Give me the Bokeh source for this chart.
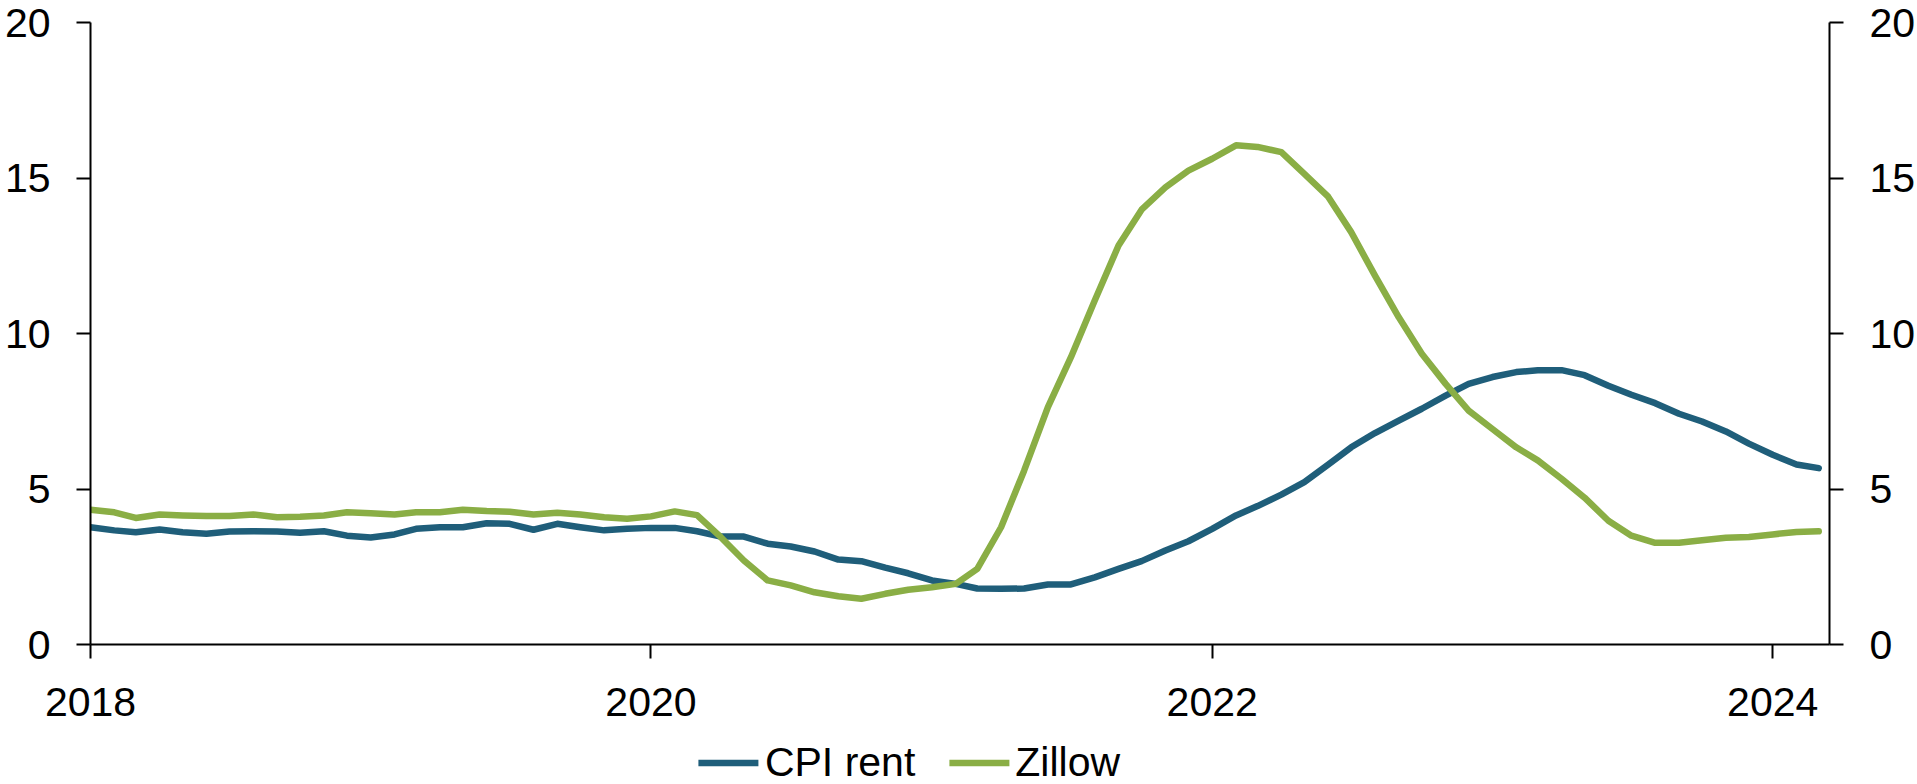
import pandas as pd
from datetime import datetime
from bokeh.plotting import figure
from bokeh.layouts import column
from bokeh.models import (Range1d, LinearAxis, FixedTicker, DatetimeTickFormatter,
                          Legend, LegendItem, ColumnDataSource)
from bokeh.embed import file_html
from bokeh.resources import INLINE

# ---- data (monthly, Jan 2018 - Mar 2024), % y/y ----
start_month = "2018-01-01"
cpi_rent = [3.77, 3.67, 3.61, 3.70, 3.61, 3.56, 3.63, 3.64, 3.63, 3.59, 3.64, 3.50,
            3.44, 3.54, 3.72, 3.77, 3.77, 3.90, 3.88, 3.69, 3.88, 3.77, 3.67, 3.72,
            3.75, 3.75, 3.64, 3.47, 3.47, 3.24, 3.15, 2.99, 2.73, 2.68, 2.47, 2.29,
            2.06, 1.95, 1.80, 1.79, 1.80, 1.93, 1.93, 2.16, 2.43, 2.68, 3.02, 3.32,
            3.72, 4.15, 4.45, 4.82, 5.22, 5.78, 6.34, 6.80, 7.20, 7.58, 8.00, 8.38,
            8.60, 8.76, 8.82, 8.82, 8.66, 8.32, 8.03, 7.76, 7.42, 7.17, 6.85, 6.46,
            6.10, 5.79, 5.67]
zillow = [4.33, 4.25, 4.07, 4.18, 4.15, 4.13, 4.13, 4.18, 4.09, 4.11, 4.15, 4.25,
          4.22, 4.18, 4.25, 4.25, 4.33, 4.29, 4.27, 4.18, 4.24, 4.18, 4.09, 4.04,
          4.12, 4.28, 4.16, 3.45, 2.70, 2.06, 1.90, 1.68, 1.55, 1.47, 1.63, 1.76,
          1.84, 1.95, 2.43, 3.77, 5.59, 7.63, 9.24, 11.06, 12.83, 13.98, 14.70, 15.24,
          15.62, 16.05, 16.00, 15.83, 15.13, 14.40, 13.26, 11.86, 10.52, 9.35, 8.38, 7.52,
          6.93, 6.34, 5.92, 5.33, 4.72, 3.98, 3.50, 3.27, 3.27, 3.35, 3.43, 3.46,
          3.54, 3.62, 3.64]
series_names = ["CPI rent", "Zillow"]
series_colors = ["#1f5e7a", "#8aae45"]
x_tick_years = [2018, 2020, 2022, 2024]
y_ticks = [0, 5, 10, 15, 20]

dates = pd.date_range(start_month, periods=len(cpi_rent), freq="MS")
src = ColumnDataSource(dict(date=dates, cpi=cpi_rent, zillow=zillow))

FONT = "'Liberation Sans Narrow', 'Liberation Sans', sans-serif"
FS = "41px"
LW = 6.5

p = figure(frame_width=1739, frame_height=622, output_backend="svg",
           toolbar_location=None, x_axis_type="datetime",
           x_range=Range1d(datetime(2018, 1, 1), datetime(2024, 3, 15)),
           y_range=Range1d(0, 20),
           min_border_left=90, min_border_right=86, min_border_top=22,
           min_border_bottom=96)
p.outline_line_color = None
p.xgrid.grid_line_color = None
p.ygrid.grid_line_color = None
p.background_fill_color = "white"
p.border_fill_color = "white"

r1 = p.line("date", "cpi", source=src, line_color=series_colors[0], line_width=LW,
            line_join="round", line_cap="round")
r2 = p.line("date", "zillow", source=src, line_color=series_colors[1], line_width=LW,
            line_join="round", line_cap="round")

tick_ms = [datetime(y, 1, 1).timestamp() * 1000 for y in x_tick_years]
xa = p.xaxis[0]
xa.ticker = FixedTicker(ticks=tick_ms)
xa.formatter = DatetimeTickFormatter(years="%Y", months="%Y", days="%Y", hours="%Y",
                                     hourmin="%Y", minutes="%Y", minsec="%Y",
                                     seconds="%Y", milliseconds="%Y", microseconds="%Y")

ry = LinearAxis()
p.add_layout(ry, "right")

for ax in [xa, p.yaxis[0], ry]:
    ax.axis_line_color = "black"
    ax.axis_line_width = 2
    ax.major_tick_line_color = "black"
    ax.major_tick_line_width = 2
    ax.major_tick_in = 0
    ax.major_tick_out = 14
    ax.minor_tick_line_color = None
    ax.major_label_text_font = FONT
    ax.major_label_text_font_size = FS
    ax.major_label_text_color = "black"

for ax in [p.yaxis[0], ry]:
    ax.ticker = FixedTicker(ticks=y_ticks)
    ax.major_label_standoff = 26
xa.major_label_standoff = 29

# ---- legend strip below the chart (its line renderers fall outside its ranges) ----
lg = figure(frame_width=1739, frame_height=44, output_backend="svg",
            toolbar_location=None, x_axis_location=None, y_axis_location=None,
            x_range=Range1d(0, 1), y_range=Range1d(0, 1),
            min_border_left=80, min_border_right=0, min_border_top=0,
            min_border_bottom=0)
lg.outline_line_color = None
lg.xgrid.grid_line_color = None
lg.ygrid.grid_line_color = None
l1 = lg.line("date", "cpi", source=src, line_color=series_colors[0], line_width=LW,
             line_cap="round")
l2 = lg.line("date", "zillow", source=src, line_color=series_colors[1], line_width=LW,
             line_cap="round")
legend = Legend(items=[LegendItem(label=series_names[0], renderers=[l1]),
                       LegendItem(label=series_names[1], renderers=[l2])],
                orientation="horizontal", location="center",
                label_text_font=FONT, label_text_font_size=FS,
                label_text_color="black", glyph_width=60, glyph_height=30,
                label_standoff=6, spacing=34, padding=0, margin=0,
                border_line_color=None, background_fill_alpha=0)
lg.add_layout(legend)

open("out.html", "w").write(file_html(column(p, lg, spacing=0), INLINE))
